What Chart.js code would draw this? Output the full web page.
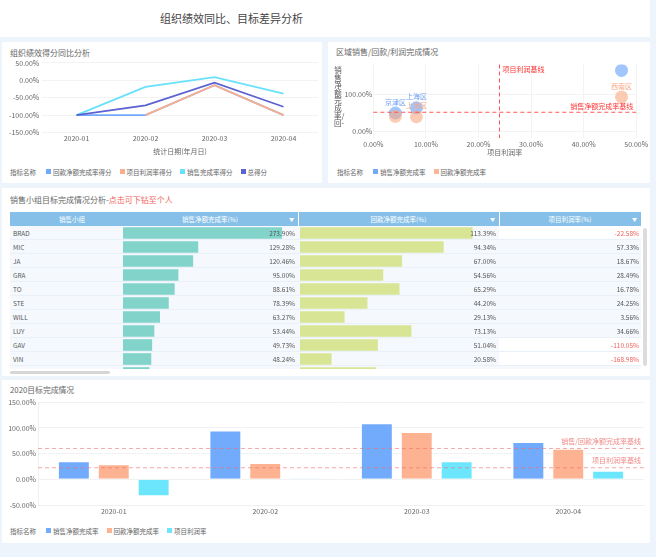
<!DOCTYPE html>
<html>
<head>
<meta charset="utf-8">
<script src="https://cdn.jsdelivr.net/npm/chart.js@4.4.1/dist/chart.umd.min.js"></script>
<style>
  body { margin:0; width:656px; height:557px; background:#edf4fb; position:relative; overflow:hidden; font-family:"Noto Sans CJK SC", sans-serif; color:#333; }
  .box { position:absolute; background:#fff; }
  .t { position:absolute; white-space:nowrap; line-height:1; }
  canvas { position:absolute; }
  .lg { position:absolute; font-size:6.5px; color:#666; white-space:nowrap; line-height:1; display:flex; align-items:center; }
  .lg .lt { margin-right:10px; }
  .lg .it { display:flex; align-items:center; margin-right:8px; }
  .lg i { display:inline-block; width:5px; height:5px; margin-right:2px; }
  .hd { position:absolute; top:212px; height:14px; line-height:14px; font-size:6.5px; color:#fff; text-align:center; }
  .ar { position:absolute; top:212px; height:14px; line-height:14px; font-size:5px; color:#fff; }
  .row { position:absolute; left:0; width:631px; height:14px; border-bottom:1px solid #e9f0f8; box-sizing:border-box; }
  .cell { position:absolute; height:14px; line-height:14px; font-size:6.5px; color:#555; white-space:nowrap; }
  .vt { position:absolute; width:8px; font-size:7.5px; line-height:7.6px; color:#555; word-break:break-all; white-space:normal; text-align:center; }
</style>
</head>
<body>
<div class="box" style="left:0;top:0;width:650px;height:37px"></div>
<div class="t" style="left:160px;top:13px;font-size:11px;color:#444">组织绩效同比、目标差异分析</div>

<div class="box" style="left:2px;top:42px;width:320px;height:141px"></div>
<div class="box" style="left:328px;top:42px;width:322px;height:141px"></div>
<div class="box" style="left:2px;top:188px;width:648px;height:188px"></div>
<div class="box" style="left:2px;top:380px;width:648px;height:163px"></div>

<div class="t" style="left:10px;top:49px;font-size:8px;color:#666">组织绩效得分同比分析</div>
<canvas id="c1" width="320" height="100" style="left:2px;top:56px"></canvas>
<div class="lg" id="lg1" style="left:10px;top:168.5px"></div>

<div class="t" style="left:336px;top:48px;font-size:8px;color:#666">区域销售/回款/利润完成情况</div>
<canvas id="c2" width="320" height="99" style="left:330px;top:58px"></canvas>
<div class="vt" style="left:334px;top:66px">销售净额完成率/回-</div>
<div class="lg" id="lg2" style="left:337px;top:168.5px"></div>

<div class="t" style="left:10px;top:196px;font-size:8px;color:#666">销售小组目标完成情况分析-<span style="color:#f4615c">点击可下钻至个人</span></div>
<div style="position:absolute;left:10px;top:212px;width:631px;height:14px;background:#86bfe8"></div>
<div class="hd" style="left:10px;width:124px">销售小组</div>
<div class="hd" style="left:122px;width:176px">销售净额完成率(%)</div>
<div class="hd" style="left:298px;width:201px">回款净额完成率(%)</div>
<div class="hd" style="left:499px;width:142px">项目利润率(%)</div>
<div style="position:absolute;left:298px;top:212px;width:1px;height:14px;background:#fff"></div>
<div style="position:absolute;left:499px;top:212px;width:1px;height:14px;background:#fff"></div>
<div class="ar" style="left:289px">▼</div>
<div class="ar" style="left:490px">▼</div>
<div class="ar" style="left:632px">▼</div>
<div id="tbody" style="position:absolute;left:10px;top:226px;width:631px;height:143px;overflow:hidden;background:#f5f9fd">
  <div id="rows"></div>
  <canvas id="c4" width="175" height="154" style="left:113px;top:0"></canvas>
  <canvas id="c5" width="199" height="154" style="left:290px;top:0"></canvas>
  <div id="cells"></div>
</div>
<div style="position:absolute;left:643px;top:228px;width:4px;height:138px;background:#dcdcdc;border-radius:2px"></div>
<div style="position:absolute;left:10px;top:371px;width:100px;height:3px;background:#d6d6d6;border-radius:2px"></div>

<div class="t" style="left:10px;top:386px;font-size:7.8px;color:#666">2020目标完成情况</div>
<canvas id="c3" width="648" height="121" style="left:2px;top:396px"></canvas>
<div class="lg" id="lg3" style="left:10px;top:527.5px"></div>

<script>
// 组织绩效得分同比
const months = ["2020-01", "2020-02", "2020-03", "2020-04"];
const scoreReturn = [-100, -100, -14, -100];
const scoreProfit = [null, -100, -14, -100];
const scoreSales = [-100, -19, 9, -38];
const scoreTotal = [-100, -72, -7, -76];

// 区域销售/回款/利润
const regions = ["京津区", "上海区", "西南区"];
const regionProfit = [4.2, 8.2, 47.2];
const regionSales = [50, 64, 164];
const regionReturn = [41, 40, 93];
const profitBase = 24;
const salesBase = 52;

// 销售小组
const groups = ["BRAD", "MIC", "JA", "GRA", "TO", "STE", "WILL", "LUY", "GAV", "VIN", ""];
const groupSales = [273.90, 129.28, 120.46, 95.00, 88.61, 78.39, 63.27, 53.44, 49.73, 48.24, 45];
const groupReturn = [113.39, 94.34, 67.00, 54.56, 65.29, 44.20, 29.13, 73.13, 51.04, 20.58, 50];
const groupProfit = [-22.58, 57.33, 18.67, 28.49, 16.78, 24.25, 3.56, 34.66, -110.05, -168.98, null];

// 2020目标完成
const targetSales = [35, 95, 109, 72.5];
const targetReturn = [29.5, 31.5, 92, 59.5];
const targetProfit = [-33, 2, 35, 16.5];
const baseSalesReturn = 60;
const baseProfit = 22.5;

Chart.defaults.font.family = '"Noto Sans CJK SC", sans-serif';
Chart.defaults.font.size = 7;
Chart.defaults.color = '#666';
Chart.defaults.animation = false;
Chart.defaults.responsive = false;
Chart.defaults.plugins.legend.display = false;
Chart.defaults.plugins.tooltip.enabled = false;

const pct = v => Number(v).toFixed(2) + '%';

// dashed base lines with their names
const refLines = {
  id: 'refLines',
  afterDatasetsDraw(chart, args, opts) {
    const { ctx, chartArea } = chart;
    (opts.lines || []).forEach(l => {
      const p = chart.scales[l.axis].getPixelForValue(l.value);
      ctx.save();
      ctx.strokeStyle = l.color;
      ctx.lineWidth = 1;
      ctx.setLineDash([4, 3]);
      ctx.beginPath();
      if (l.axis === 'x') { ctx.moveTo(p, chartArea.top); ctx.lineTo(p, chartArea.bottom); }
      else { ctx.moveTo(chartArea.left, p); ctx.lineTo(chartArea.right, p); }
      ctx.stroke();
      ctx.fillStyle = l.textColor;
      ctx.font = '7px "Noto Sans CJK SC"';
      ctx.textBaseline = 'middle';
      if (l.axis === 'x') { ctx.textAlign = 'left'; ctx.fillText(l.label, p + 3, chartArea.top + 5); }
      else { ctx.textAlign = 'right'; ctx.fillText(l.label, chartArea.right - 3, p - l.dy); }
      ctx.restore();
    });
  }
};

// region names above bubbles, hidden when they collide
const bubbleNames = {
  id: 'bubbleNames',
  afterDatasetsDraw(chart) {
    const { ctx, chartArea } = chart;
    const placed = [];
    ctx.save();
    ctx.font = '7px "Noto Sans CJK SC"';
    ctx.textAlign = 'center';
    ctx.textBaseline = 'middle';
    chart.data.datasets.forEach((ds, di) => {
      chart.getDatasetMeta(di).data.forEach((pt, i) => {
        const text = regions[i];
        const w = ctx.measureText(text).width, h = 8;
        const x = pt.x, y = pt.y - 11;
        if (y - h / 2 < chartArea.top) return;
        const b = { l: x - w / 2 + 2, r: x + w / 2 - 2, t: y - h / 2 + 2, bt: y + h / 2 - 2 };
        if (placed.some(o => b.l < o.r && b.r > o.l && b.t < o.bt && b.bt > o.t)) return;
        placed.push(b);
        ctx.fillStyle = ds.labelColor;
        ctx.fillText(text, x, y);
      });
    });
    ctx.restore();
  }
};

function legend(id, chart) {
  const el = document.getElementById(id);
  el.innerHTML = '<span class="lt">指标名称</span>' + chart.data.datasets.map(d =>
    `<span class="it"><i style="background:${d.legendColor || d.backgroundColor}"></i>${d.label}</span>`).join('');
}

const c1 = new Chart(document.getElementById('c1'), {
  type: 'line',
  data: {
    labels: months,
    datasets: [
      { label: '回款净额完成率得分', data: scoreReturn, borderColor: '#72a9fb', backgroundColor: '#72a9fb', order: 4 },
      { label: '项目利润率得分', data: scoreProfit, borderColor: '#f9ae8d', backgroundColor: '#f9ae8d', order: 3 },
      { label: '销售完成率得分', data: scoreSales, borderColor: '#68e2fb', backgroundColor: '#68e2fb', order: 2 },
      { label: '总得分', data: scoreTotal, borderColor: '#5b62d2', backgroundColor: '#5b62d2', order: 1 }
    ]
  },
  options: {
    elements: { point: { radius: 0 }, line: { borderWidth: 1.8, tension: 0 } },
    layout: { padding: { top: 6.5, right: 4, left: 0, bottom: 0 } },
    scales: {
      x: {
        offset: true, grid: { display: false, drawTicks: false }, border: { display: false },
        ticks: { padding: 1.3 },
        title: { display: true, text: '统计日期(年月日)', padding: 0 },
        afterFit: s => { s.height = 23.5; }
      },
      y: {
        min: -150, max: 50,
        ticks: { stepSize: 50, padding: 2.7, callback: pct },
        grid: { color: '#f3f3f3', drawTicks: false }, border: { display: false },
        afterFit: s => { s.width = 40; }
      }
    }
  }
});
legend('lg1', c1);

const c2 = new Chart(document.getElementById('c2'), {
  type: 'bubble',
  data: {
    datasets: [
      { label: '销售净额完成率', data: regions.map((r, i) => ({ x: regionProfit[i], y: regionSales[i] })),
        backgroundColor: 'rgba(110,168,254,0.65)', legendColor: '#72aafc', labelColor: '#6b9ff0', radius: 6.5, borderWidth: 0, order: 2 },
      { label: '回款净额完成率', data: regions.map((r, i) => ({ x: regionProfit[i], y: regionReturn[i] })),
        backgroundColor: 'rgba(250,168,130,0.6)', legendColor: '#fbb598', labelColor: '#f5a683', radius: 6.5, borderWidth: 0, order: 1 }
    ]
  },
  options: {
    layout: { padding: { top: 6, right: 6, left: 0, bottom: 0 } },
    plugins: {
      refLines: { lines: [
        { axis: 'x', value: profitBase, label: '项目利润基线', color: '#f55', textColor: '#f33' },
        { axis: 'y', value: salesBase, label: '销售净额完成率基线', color: '#f55', textColor: '#f33', dy: 6 }
      ] }
    },
    scales: {
      x: {
        type: 'linear', min: 0, max: 50,
        ticks: { stepSize: 10, padding: 1.8, callback: pct },
        grid: { color: '#f3f3f3', drawTicks: false }, border: { display: false },
        title: { display: true, text: '项目利润率', padding: 0 },
        afterFit: s => { s.height = 19; }
      },
      y: {
        min: -17, max: 180,
        afterBuildTicks: s => { s.ticks = [{ value: 0 }, { value: 100 }]; },
        ticks: { padding: 1, callback: pct },
        grid: { color: '#f3f3f3', drawTicks: false }, border: { display: false },
        afterFit: s => { s.width = 43.3; }
      }
    }
  },
  plugins: [refLines, bubbleNames]
});
legend('lg2', c2);

const c3 = new Chart(document.getElementById('c3'), {
  type: 'bar',
  data: {
    labels: months,
    datasets: [
      { label: '销售净额完成率', data: targetSales, backgroundColor: '#72aafc' },
      { label: '回款净额完成率', data: targetReturn, backgroundColor: '#fdb292' },
      { label: '项目利润率', data: targetProfit, backgroundColor: '#6ce6fd' }
    ]
  },
  options: {
    categoryPercentage: 0.79,
    barPercentage: 0.8,
    borderWidth: 1,
    borderColor: 'rgba(255,255,255,0.8)',
    layout: { padding: { top: 5, right: 6, left: 0, bottom: 0 } },
    plugins: {
      refLines: { lines: [
        { axis: 'y', value: baseSalesReturn, label: '销售/回款净额完成率基线', color: 'rgba(240,110,110,0.6)', textColor: '#f08a8a', dy: 7 },
        { axis: 'y', value: baseProfit, label: '项目利润率基线', color: 'rgba(240,110,110,0.6)', textColor: '#f08a8a', dy: 7 }
      ] }
    },
    scales: {
      x: {
        grid: { display: false, drawTicks: false }, border: { color: '#f0f0f0' },
        ticks: { padding: 2.1 },
        afterFit: s => { s.height = 12; }
      },
      y: {
        min: -50, max: 150,
        ticks: { stepSize: 50, padding: 2, callback: pct },
        grid: { color: '#f2f2f2', drawTicks: false }, border: { color: '#f0f0f0' },
        afterFit: s => { s.width = 36; }
      }
    }
  },
  plugins: [refLines]
});
legend('lg3', c3);

// table rows and text
const rowsEl = document.getElementById('rows');
const cellsEl = document.getElementById('cells');
groups.forEach((g, i) => {
  const top = i * 14;
  const neg = groupProfit[i] !== null && groupProfit[i] < 0;
  rowsEl.insertAdjacentHTML('beforeend',
    `<div class="row" style="top:${top}px"></div>` +
    (neg ? `<div style="position:absolute;left:489px;top:${top}px;width:142px;height:13px;background:#fff"></div>` : ''));
  cellsEl.insertAdjacentHTML('beforeend',
    `<div class="cell" style="left:3px;top:${top}px">${g}</div>` +
    `<div class="cell" style="left:112px;width:173px;text-align:right;top:${top}px">${pct(groupSales[i])}</div>` +
    `<div class="cell" style="left:290px;width:196px;text-align:right;top:${top}px">${pct(groupReturn[i])}</div>` +
    `<div class="cell" style="left:489px;width:140px;text-align:right;top:${top}px;color:${neg ? '#f0605a' : '#555'}">${groupProfit[i] === null ? '' : pct(groupProfit[i])}</div>`);
});

function tableBars(id, values, color, max) {
  return new Chart(document.getElementById(id), {
    type: 'bar',
    data: { labels: groups, datasets: [{ data: values, backgroundColor: color, barThickness: 11 }] },
    options: {
      indexAxis: 'y',
      layout: { padding: 0 },
      scales: {
        x: { display: false, min: 0, max: max },
        y: { display: false }
      }
    }
  });
}
tableBars('c4', groupSales, '#82d4cb', 302);
tableBars('c5', groupReturn, '#d8e594', 131);
</script>
</body>
</html>
